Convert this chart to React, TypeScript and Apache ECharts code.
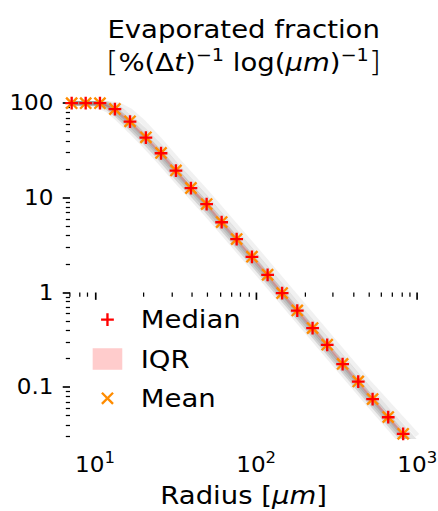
import React, { useEffect, useRef } from "react";
import * as echarts from "echarts";

// ---------- data ----------
const RADIUS = [7.17, 8.76, 10.74, 13.3, 16.5, 20.7, 25.7, 31.8, 39.4, 49.3, 61.1, 75.7, 94.2, 117.8, 145, 180, 224, 276, 344, 430, 528, 660, 817];
const MEDIAN = [100, 100, 100, 86.4, 63.9, 43.3, 29.6, 19.4, 12.65, 8.57, 5.53, 3.66, 2.38, 1.536, 0.984, 0.645, 0.42, 0.28, 0.175, 0.1147, 0.0747, 0.0482, 0.0321];
const MEAN = [100, 100, 100, 86.8, 64.3, 43.6, 29.8, 19.5, 12.7, 8.6, 5.55, 3.67, 2.39, 1.54, 0.987, 0.647, 0.421, 0.281, 0.176, 0.115, 0.075, 0.0484, 0.0322];
const IQR_LOW = [100, 100, 100, 83, 61, 41.3, 28.2, 18.5, 12.05, 8.15, 5.27, 3.48, 2.27, 1.46, 0.937, 0.614, 0.4, 0.267, 0.167, 0.109, 0.0711, 0.0459, 0.0306];
const IQR_HIGH = [100, 100, 100, 89.5, 66.5, 45.3, 31, 20.3, 13.25, 8.98, 5.8, 3.84, 2.49, 1.61, 1.03, 0.677, 0.441, 0.294, 0.184, 0.12, 0.0784, 0.0506, 0.0337];

// individual (grey) curves
const GRAY_RADIUS = [7, 10, 12, 14, 16.5, 20, 25, 32, 50, 100, 200, 500, 1000];
const GRAY_1 = [100, 96, 84, 67, 51, 36.5, 24.3, 15, 6.5, 1.65, 0.41, 0.0653, 0.0169];
const GRAY_2 = [100, 99, 89, 72, 55.5, 40, 26.8, 16.5, 7.15, 1.82, 0.452, 0.072, 0.0186];
const GRAY_3 = [100, 100, 93, 76, 59.5, 43, 29, 17.9, 7.75, 1.96, 0.488, 0.0778, 0.0201];
const GRAY_4 = [100, 100, 96, 80.4, 63.9, 46.2, 31.1, 19.2, 8.33, 2.11, 0.525, 0.0837, 0.0216];
const GRAY_5 = [100, 100, 99, 89, 72, 53, 35.8, 22, 9.6, 2.43, 0.6, 0.0963, 0.0255];
const GRAY_6 = [100, 100, 100, 97, 84, 63, 42, 26, 11.2, 2.85, 0.71, 0.113, 0.031];

const X_RANGE = [7, 1000];
const Y_RANGE = [0.03, 150];
const X_MAJOR_EXP = [1, 2, 3];
const X_MINOR = [7, 8, 9, 20, 30, 40, 50, 60, 70, 80, 90, 200, 300, 400, 500, 600, 700, 800, 900];
const Y_MAJOR = [0.1, 1, 10, 100];
const Y_MAJOR_LABELS = ["0.1", "1", "10", "100"];
const Y_MINOR = [0.03, 0.04, 0.05, 0.06, 0.07, 0.08, 0.09, 0.2, 0.3, 0.4, 0.5, 0.6, 0.7, 0.8, 0.9, 2, 3, 4, 5, 6, 7, 8, 9, 20, 30, 40, 50, 60, 70, 80, 90];

// ---------- layout ----------
const W = 398;
const H = 511;
const SX = 438 / W;
const FONT = "DejaVu Sans";
const L = Math.log10;

const T = 2.2; // bar thickness in a 12x12 box
const A = 6 - T / 2;
const B = 6 + T / 2;
const PLUS_PTS = [[A, 0], [B, 0], [B, A], [12, A], [12, B], [B, B], [B, 12], [A, 12], [A, B], [0, B], [0, A], [A, A]];
const D = T / Math.SQRT2;
const X_PTS = [[0, D], [D, 0], [6, 6 - D], [12 - D, 0], [12, D], [6 + D, 6], [12, 12 - D], [12 - D, 12], [6, 6 + D], [D, 12], [0, 12 - D], [6 - D, 6]];

function polyPath(pts: number[][], sx: number, sy: number, ox: number, oy: number) {
  return "M" + pts.map(([x, y]) => `${(ox + x * sx).toFixed(3)} ${(oy + y * sy).toFixed(3)}`).join("L") + "Z";
}

const MW = 11.6; // marker width (pre-stretch)
const MH = 12.8;
const LEG_W = 38.7;
const LEG_H = 21.3;
const CORNERS = ` M0 0h0.01v0.01Z M${LEG_W} ${LEG_H}h-0.01v-0.01Z`;
const LEG_CX = 13.45;
const LEG_CY = LEG_H / 2;

const plusSymbol = "path://" + polyPath(PLUS_PTS, 1, 1, 0, 0);
const xSymbol = "path://" + polyPath(X_PTS, 1, 1, 0, 0);
const plusIcon = "path://" + polyPath(PLUS_PTS, MW / 12, MH / 12, LEG_CX - MW / 2, LEG_CY - MH / 2) + CORNERS;
const xIcon = "path://" + polyPath(X_PTS, MW / 12, MH / 12, LEG_CX - MW / 2, LEG_CY - MH / 2) + CORNERS;
const rectIcon = `path://M0 0H26.9V${LEG_H}H0Z` + CORNERS;

const grayLines = [GRAY_1, GRAY_2, GRAY_3, GRAY_4, GRAY_5, GRAY_6];
const grayOpacity = [0.12, 0.25, 0.3, 0.3, 0.2, 0.1];

function buildOption() {
  const xMin = L(X_RANGE[0]);
  const xMax = L(X_RANGE[1]);
  const yMin = L(Y_RANGE[0]);
  const yMax = L(Y_RANGE[1]);

  const hiddenAxisBits = {
    axisLine: { show: false },
    splitLine: { show: false },
  };

  const graySeries = grayLines.map((vals, k) => ({
    type: "line",
    name: "curve" + k,
    data: GRAY_RADIUS.map((r, i) => [L(r), L(vals[i])]),
    showSymbol: false,
    symbol: "none",
    silent: true,
    lineStyle: { color: "#7a7a7a", width: 4.5, opacity: grayOpacity[k] },
    z: 1,
  }));

  return {
    animation: false,
    textStyle: { fontFamily: FONT },
    grid: { left: 63.6, right: 18.8, top: 86.5, bottom: 74.3, outerBoundsMode: "none", containLabel: false },
    graphic: [
      {
        type: "text",
        x: 221.4,
        y: 29,
        style: {
          text: "Evaporated fraction",
          fontSize: 25,
          fontFamily: FONT,
          fill: "#000",
          align: "center",
          verticalAlign: "middle",
        },
      },
      {
        type: "text",
        x: 221.4,
        y: 62,
        style: {
          text: "{br|[}{n|%(Δ}{it|t}{n|)}{sup|−1}{n| log(}{it|μm}{n|)}{sup|−1}{br|]}",
          align: "center",
          verticalAlign: "middle",
          fill: "#000",
          rich: {
            n: { fontSize: 25, fontFamily: FONT, lineHeight: 32, fill: "#000" },
            it: { fontSize: 25, fontFamily: FONT, fontStyle: "italic", lineHeight: 32, fill: "#000" },
            sup: { fontSize: 17.5, fontFamily: FONT, lineHeight: 17.5, verticalAlign: "top", fill: "#000" },
            br: { fontSize: 29, fontFamily: FONT, lineHeight: 32, fill: "#000", fontWeight: 300 },
          },
        },
      },
    ],
    legend: {
      orient: "vertical",
      left: 84.2,
      top: 307.2,
      padding: 0,
      itemWidth: LEG_W,
      itemHeight: LEG_H,
      itemGap: 14.3,
      selectedMode: false,
      symbolKeepAspect: true,
      textStyle: { fontSize: 25, fontFamily: FONT, color: "#000", lineHeight: LEG_H },
      data: [
        { name: "Median", icon: plusIcon, itemStyle: { color: "#ff0000", opacity: 1 } },
        { name: "IQR", icon: rectIcon, itemStyle: { color: "#ffcccc", opacity: 1 } },
        { name: "Mean", icon: xIcon, itemStyle: { color: "#ff8c00", opacity: 1 } },
      ],
    },
    xAxis: [
      {
        type: "value",
        min: xMin,
        max: xMax,
        position: "bottom",
        ...hiddenAxisBits,
        axisTick: { show: true, customValues: X_MAJOR_EXP, length: 7.3, lineStyle: { color: "#000", width: 1.52 } },
        axisLabel: {
          show: true,
          customValues: X_MAJOR_EXP,
          margin: 13.7,
          formatter: (v: number) => `{b|10}{s|${Math.round(v)}}`,
          rich: {
            b: { fontSize: 21, fontFamily: FONT, color: "#000", lineHeight: 28 },
            s: { fontSize: 15, fontFamily: FONT, color: "#000", lineHeight: 15, verticalAlign: "top" },
          },
        },
        name: "Radius [{i|μm}]",
        nameLocation: "middle",
        nameGap: 44,
        nameTextStyle: {
          fontSize: 25,
          fontFamily: FONT,
          color: "#000",
          lineHeight: 30,
          rich: { i: { fontSize: 25, fontFamily: FONT, fontStyle: "italic", color: "#000", lineHeight: 30 } },
        },
      },
      {
        type: "value",
        min: xMin,
        max: xMax,
        position: "bottom",
        ...hiddenAxisBits,
        axisTick: { show: true, customValues: X_MINOR.map(L), length: 4.2, lineStyle: { color: "#000", width: 1.14 } },
        axisLabel: { show: false },
      },
    ],
    yAxis: [
      {
        type: "value",
        min: yMin,
        max: yMax,
        position: "left",
        ...hiddenAxisBits,
        axisTick: { show: true, customValues: Y_MAJOR.map(L), length: 6.6, lineStyle: { color: "#000", width: 1.67 } },
        axisLabel: {
          show: true,
          customValues: Y_MAJOR.map(L),
          margin: 15,
          fontSize: 21,
          fontFamily: FONT,
          color: "#000",
          formatter: (v: number) => {
            let best = 0;
            Y_MAJOR.forEach((t, i) => {
              if (Math.abs(L(t) - v) < Math.abs(L(Y_MAJOR[best]) - v)) best = i;
            });
            return Y_MAJOR_LABELS[best];
          },
        },
      },
      {
        type: "value",
        min: yMin,
        max: yMax,
        position: "left",
        ...hiddenAxisBits,
        axisTick: { show: true, customValues: Y_MINOR.map(L), length: 3.8, lineStyle: { color: "#000", width: 1.25 } },
        axisLabel: { show: false },
      },
    ],
    series: [
      ...graySeries,
      {
        type: "custom",
        name: "IQR",
        itemStyle: { color: "rgba(255,0,0,0.2)" },
        data: RADIUS.map((r, i) => [L(r), L(IQR_LOW[i]), L(IQR_HIGH[i])]),
        encode: { x: 0, y: [1, 2] },
        z: 2,
        renderItem: (params: any, api: any) => {
          if (params.dataIndex !== 0) return null;
          const upper = RADIUS.map((r, i) => api.coord([L(r), L(IQR_HIGH[i])]));
          const lower = RADIUS.map((r, i) => api.coord([L(r), L(IQR_LOW[i])])).reverse();
          const cs = params.coordSys;
          return {
            type: "polygon",
            shape: { points: upper.concat(lower) },
            style: { fill: "rgba(255,0,0,0.2)" },
            clipPath: { type: "rect", shape: { x: cs.x, y: cs.y, width: cs.width, height: cs.height } },
          };
        },
      },
      {
        type: "scatter",
        name: "Mean",
        data: RADIUS.map((r, i) => [L(r), L(MEAN[i])]),
        symbol: xSymbol,
        symbolSize: [MW, MH],
        itemStyle: { color: "#ff8c00", opacity: 1 },
        z: 3,
      },
      {
        type: "scatter",
        name: "Median",
        data: RADIUS.map((r, i) => [L(r), L(MEDIAN[i])]),
        symbol: plusSymbol,
        symbolSize: [MW, MH],
        itemStyle: { color: "#ff0000", opacity: 1 },
        z: 4,
      },
    ],
  };
}

export default function App() {
  const ref = useRef<HTMLDivElement>(null);
  useEffect(() => {
    if (!ref.current) return;
    const chart = echarts.init(ref.current, null, { renderer: "svg", width: W, height: H });
    chart.setOption(buildOption() as any);
    return () => chart.dispose();
  }, []);
  return (
    <div style={{ position: "fixed", left: 0, top: 0, width: 438, height: 511, overflow: "hidden", background: "#fff" }}>
      <div ref={ref} style={{ width: W, height: H, transform: `scaleX(${SX})`, transformOrigin: "0 0" }} />
    </div>
  );
}
